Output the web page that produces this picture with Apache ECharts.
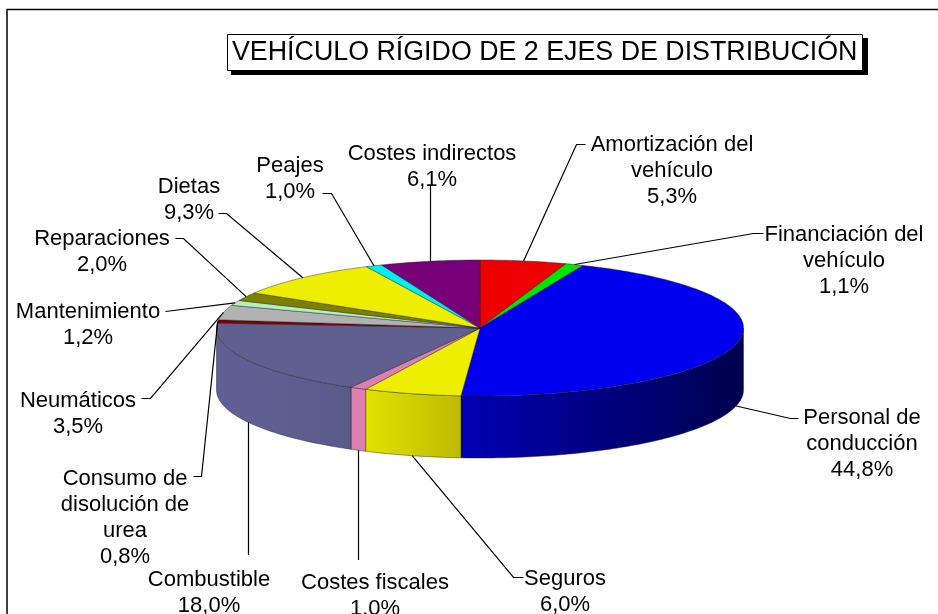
<!DOCTYPE html>
<html><head><meta charset="utf-8">
<style>html,body{margin:0;padding:0;background:#fff}#c{width:938px;height:614px}</style>
<script src="https://cdn.jsdelivr.net/npm/echarts@6/dist/echarts.min.js"></script>
</head><body><div id="c"></div>
<script>
const chartTitle = 'VEHÍCULO RÍGIDO DE 2 EJES DE DISTRIBUCIÓN';
const categories = ['Amortización del\nvehículo','Financiación del\nvehículo','Personal de\nconducción','Seguros','Costes fiscales','Combustible','Consumo de\ndisolución de\nurea','Neumáticos','Mantenimiento','Reparaciones','Dietas','Peajes','Costes indirectos'];
const shares = [5.3,1.1,44.8,6.0,1.0,18.0,0.8,3.5,1.2,2.0,9.3,1.0,6.1];

// styles
const topColors = ['#EE0000','#00E600','#0000EE','#EEEE00','#DD80B0','#606090','#800000','#B2B2B2','#B4F0BE','#808000','#EEEE00','#00EEEE','#780078'];
const sideFrom = {2:'#0000B4',3:'#E2E200',4:'#DD80B0',5:'#606096'};
const sideTo = {2:'#00004E',3:'#BDBB00',4:'#DD80B0',5:'#5B5B8A'};

// layout: pie geometry, label centres (first-line y given), leader bend points (null x = straight above/below the anchor)
const pie = {cx:480,cy:328,rx:263.5,ry:68,depth:62};
const labelCentres = [[672,132],[844,222],[862,405],[565,566],[375,570],[209,567],[125,466],[78,388],[88,299],[102,226],[189,174],[290,153],[432,141]];
const leaderBends = [
 [[585.5,144.5],[576.5,144.5]],[[763.5,233.5],[753.5,233.5]],[[798.5,418.5],[790.5,418.5]],[[523.5,577.5],[513.5,577.5]],
 [[null,560]],[[null,555]],[[193.5,476.5],[201.5,476.5]],[[141.5,398.5],[150.5,398.5]],[[165.5,311.5]],
 [[175.5,238.5],[183.5,238.5]],[[218.5,213.5],[226.5,213.5]],[[322.5,193.5],[331.5,193.5]],[[null,185]]
];

const total = shares.reduce((a,b)=>a+b,0);
let acc = 0;
const rows = shares.map((v,i)=>{const s=acc/total*360; acc+=v; return [s,acc/total*360,i,v];});

const rad = d=>d*Math.PI/180;
const rim = (deg,dy)=>[pie.cx+pie.rx*Math.sin(rad(deg)), pie.cy-pie.ry*Math.cos(rad(deg))+(dy||0)];
function arc(a,b,dy){const n=Math.max(2,Math.ceil(Math.abs(b-a)));const p=[];for(let k=0;k<=n;k++)p.push(rim(a+(b-a)*k/n,dy));return p;}
const edge = {stroke:'rgba(30,30,40,0.55)',lineWidth:0.8};

function renderItem(params,api){
  const s=api.value(0),e=api.value(1),i=api.value(2),v=api.value(3);
  const kids=[];
  const fa=Math.max(s,90),fb=Math.min(e,270);
  if(fb>fa){
    const top=arc(fa,fb,0),bot=arc(fb,fa,pie.depth);
    kids.push({type:'polygon',shape:{points:top.concat(bot)},style:Object.assign({
      fill:new echarts.graphic.LinearGradient(0,0,1,0,[{offset:0,color:sideFrom[i]},{offset:1,color:sideTo[i]}])},edge)});
  }
  kids.push({type:'polygon',shape:{points:[[pie.cx,pie.cy]].concat(arc(s,e,0))},style:Object.assign({fill:topColors[i]},edge)});
  const mid=(s+e)/2;
  const anchor=rim(mid,(mid>90&&mid<270)?pie.depth:0);
  const pts=leaderBends[i].map(p=>p[0]===null?[Math.round(anchor[0])+0.5,p[1]]:p);
  const end=leaderBends[i][0][0]===null?[pts[0][0],anchor[1]]:anchor;
  kids.push({type:'polyline',z2:5,shape:{points:pts.concat([end])},style:{fill:null,stroke:'#000',lineWidth:1.2}});
  const c=labelCentres[i];
  kids.push({type:'text',z2:6,style:{x:c[0],y:c[1],text:categories[i]+'\n'+v.toFixed(1).replace('.',',')+'%',
    align:'center',verticalAlign:'top',font:'22px "Liberation Sans", Arial, sans-serif',lineHeight:26,fill:'#000'}});
  return {type:'group',children:kids};
}

const chart=echarts.init(document.getElementById('c'),null,{renderer:'canvas'});
chart.setOption({
  animation:false,
  backgroundColor:'#fff',
  title:{text:chartTitle,left:227,top:34,padding:[5,5,5,5],backgroundColor:'#fff',borderColor:'#000',borderWidth:1,
    textStyle:{fontFamily:'"Liberation Sans", Arial, sans-serif',fontWeight:'normal',fontSize:26.8,color:'#000'}},
  graphic:[
    {type:'polyline',silent:true,shape:{points:[[7,614],[7,9.5],[938,9.5]]},style:{fill:null,stroke:'#000',lineWidth:1.5}},
    {type:'rect',silent:true,shape:{x:231,y:38,width:637,height:37},style:{fill:'#000'}}
  ],
  series:[{type:'custom',coordinateSystem:'none',silent:true,clip:false,renderItem,data:rows}]
});
</script></body></html>
